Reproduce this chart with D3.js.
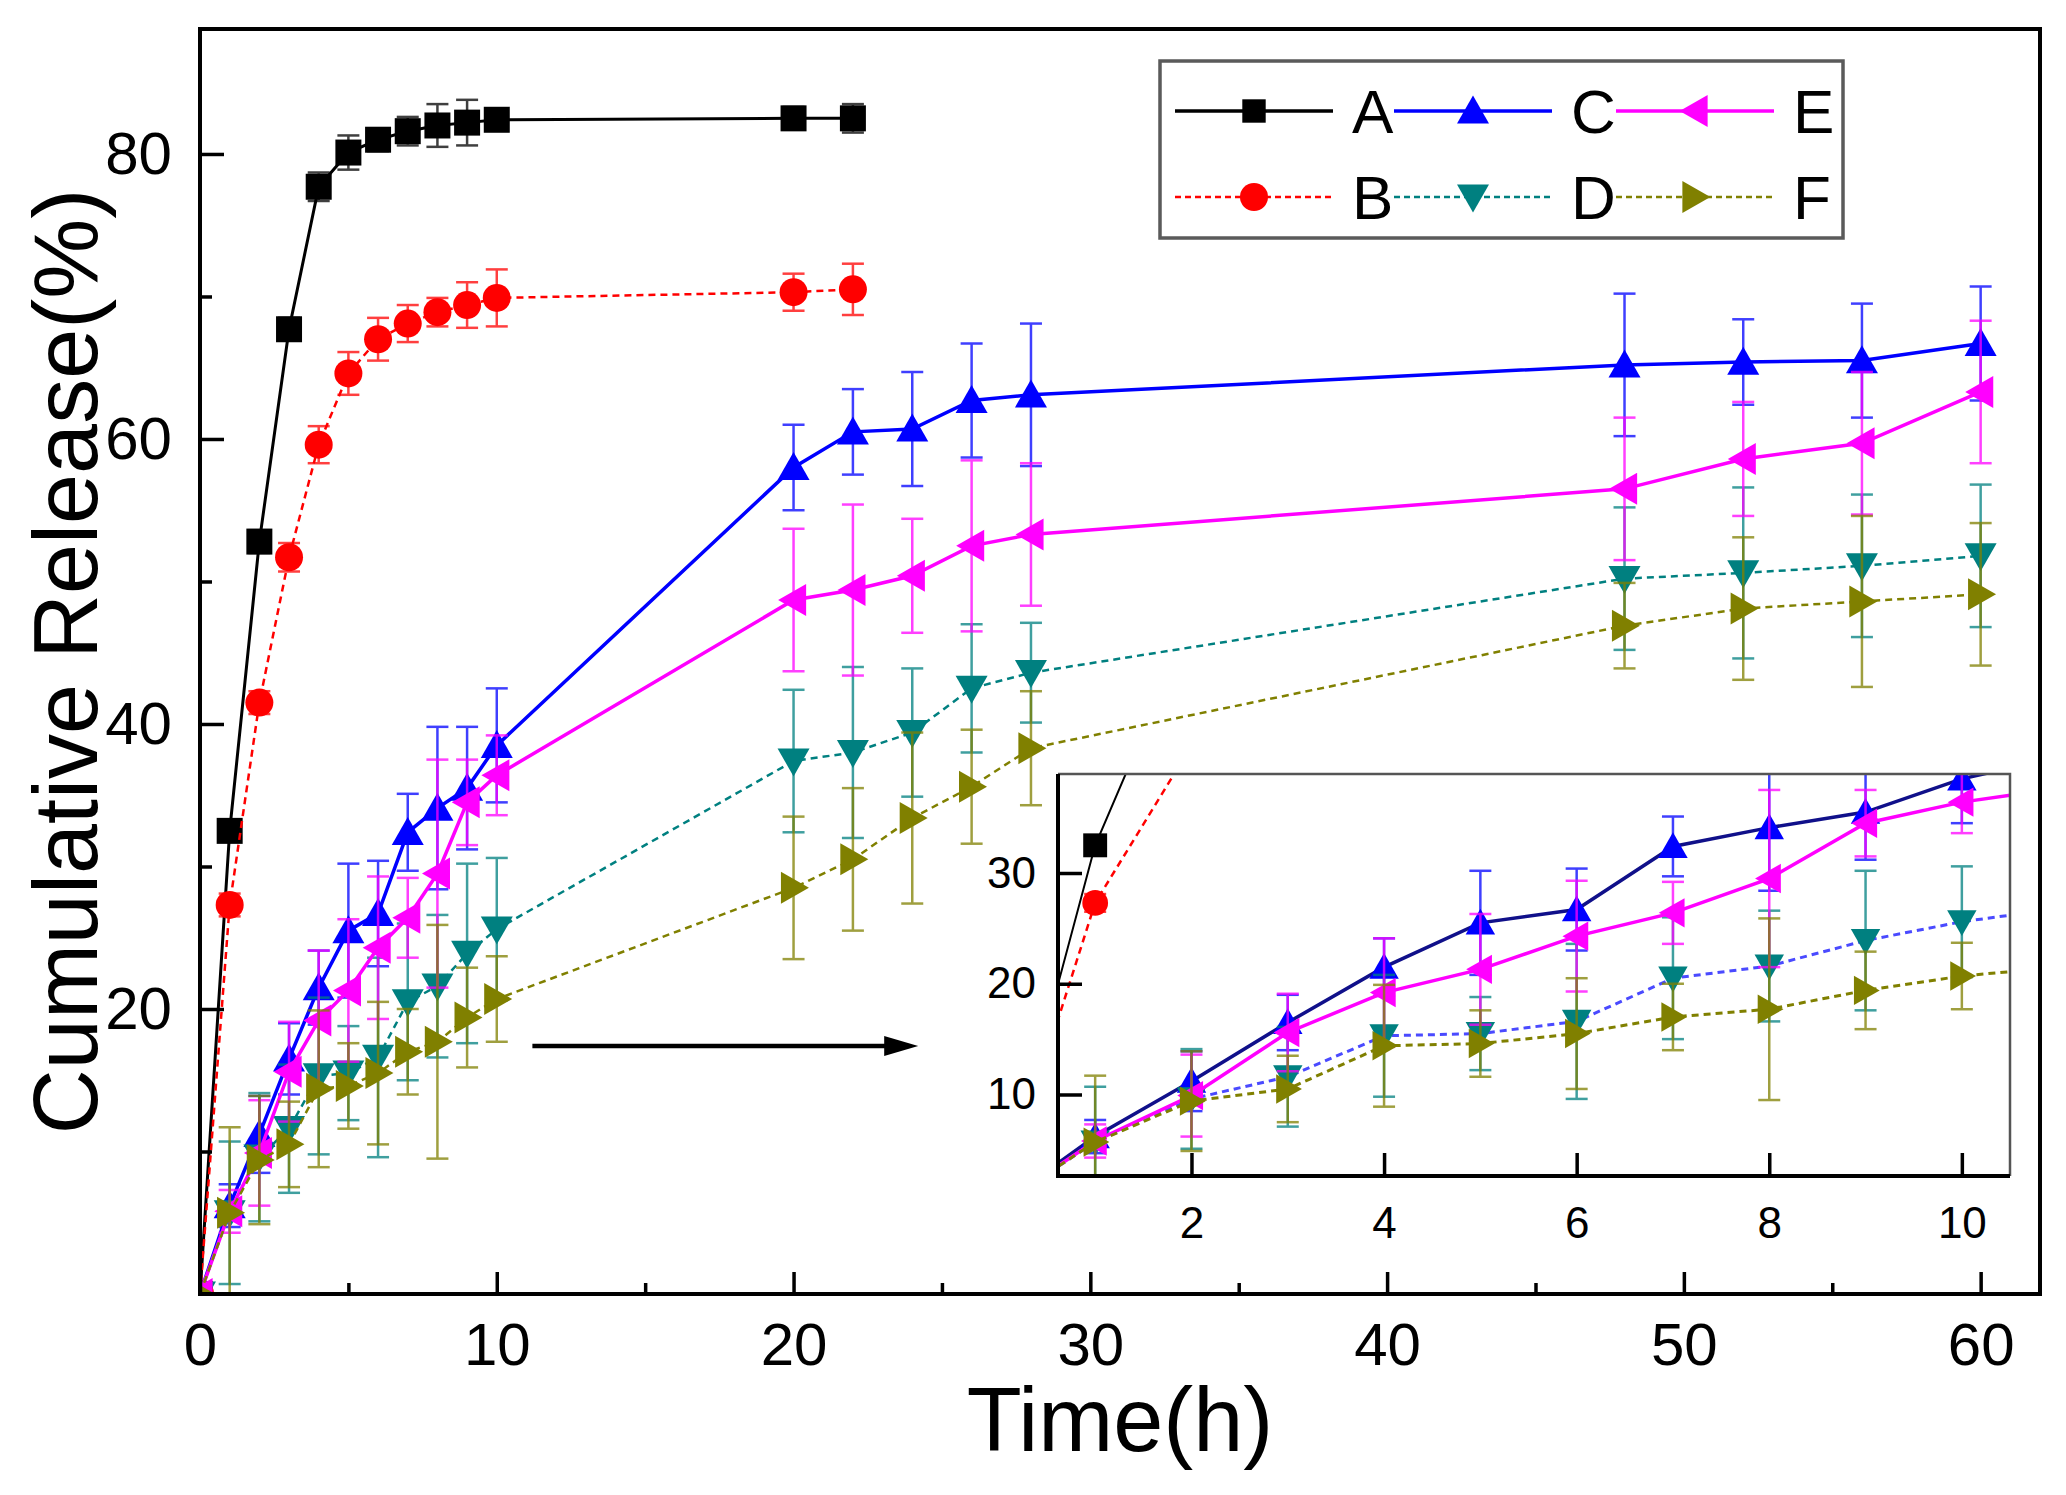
<!DOCTYPE html>
<html><head><meta charset="utf-8">
<script src="https://cdn.jsdelivr.net/npm/d3@7"></script>
<style>html,body{margin:0;padding:0;background:#fff;} svg{display:block;font-family:"Liberation Sans",Arial,sans-serif;}</style>
</head><body><svg id="chart" width="2066" height="1495"></svg>
<script>
// ---------------- DATA ----------------
const seriesNames = ["A","B","C","D","E","F"];
const timesAB = [0,1,2,3,4,5,6,7,8,9,10,20,22];
const timesCF = [0,1,2,3,4,5,6,7,8,9,10,20,22,24,26,28,48,52,56,60];
const valuesA = [0,32.5,52.8,67.7,77.7,80.1,81.0,81.6,82.0,82.2,82.4,82.5,82.5];
const errorsA = [0,0.5,0.8,0.8,1.0,1.2,0.8,1.0,1.5,1.6,0.7,0.8,1.0];
const valuesB = [0,27.3,41.5,51.7,59.6,64.6,67.0,68.1,68.9,69.4,69.9,70.3,70.5];
const errorsB = [0,0.8,0.8,1.0,1.3,1.5,1.5,1.3,1.0,1.6,2.0,1.3,1.8];
const valuesC = [0,6.2,11.2,16.5,21.5,25.5,26.7,32.4,34.1,35.5,38.5,58.0,60.5,60.7,62.7,63.1,65.2,65.4,65.5,66.7];
const errorsC = [0,1.5,2.7,2.5,2.6,4.7,3.7,2.7,5.7,4.3,4.0,3.0,3.0,4.0,4.0,5.0,5.0,3.0,4.0,4.0];
const valuesD = [0,5.7,9.6,11.6,15.3,15.5,16.6,20.5,21.6,23.9,25.6,37.4,38.0,39.4,42.5,43.6,50.2,50.6,51.1,51.8];
const errorsD = [0,5.0,4.5,4.5,5.5,3.3,7.0,5.5,5.0,6.3,5.0,5.0,6.0,4.5,4.5,3.5,5.0,6.0,5.0,5.0];
const valuesE = [0,5.8,9.9,15.6,19.2,21.3,24.3,26.4,29.5,34.5,36.4,48.7,49.4,50.4,52.5,53.3,56.5,58.6,59.7,63.3];
const errorsE = [0,1.5,3.7,3.5,4.9,5.0,5.0,2.8,8.0,3.0,2.8,5.0,6.0,4.0,6.0,5.0,5.0,4.0,5.0,5.0];
const valuesF = [0,5.7,9.4,10.5,14.4,14.6,15.5,17.0,17.7,19.4,20.7,28.5,30.5,33.4,35.6,38.3,46.9,48.1,48.6,49.1];
const errorsF = [0,6.0,4.5,3.0,5.5,3.0,5.0,3.0,8.2,3.5,3.0,5.0,5.0,6.0,4.0,4.0,3.0,5.0,6.0,5.0];

const xTicksMain = [0,10,20,30,40,50,60];
const xMinorMain = [5,15,25,35,45,55];
const yTicksMain = [20,40,60,80];
const yMinorMain = [10,30,50,70];
const xTicksInset = [2,4,6,8,10];
const yTicksInset = [10,20,30];
const xTitle = "Time(h)";
const yTitle = "Cumulative Release(%)";
const arrowFrom = [11.2,17.4];   // data units (time, %)
const arrowTo = [24.2,17.4];

// ---------------- STYLES ----------------
const styles = {
  A:{color:"#000000",shape:"square",dash:null,width:3,insetColor:"#000000",insetWidth:2},
  B:{color:"#ff0000",shape:"circle",dash:"7,5",width:2.5,insetColor:"#ff0000",insetWidth:2.5},
  C:{color:"#0000ff",shape:"up",dash:null,width:3.5,insetColor:"#10108a",insetWidth:3.5},
  D:{color:"#008080",shape:"down",dash:"7,5",width:2.5,insetColor:"#4a4aff",insetWidth:3},
  E:{color:"#ff00ff",shape:"left",dash:null,width:3.5,insetColor:"#ff00ff",insetWidth:3.5},
  F:{color:"#808000",shape:"right",dash:"7,5",width:2.5,insetColor:"#808000",insetWidth:3}
};
const seriesData = {
  A:{t:timesAB,v:valuesA,e:errorsA}, B:{t:timesAB,v:valuesB,e:errorsB},
  C:{t:timesCF,v:valuesC,e:errorsC}, D:{t:timesCF,v:valuesD,e:errorsD},
  E:{t:timesCF,v:valuesE,e:errorsE}, F:{t:timesCF,v:valuesF,e:errorsF}
};
function pts(name){const s=seriesData[name];return s.t.map((t,i)=>({t,v:s.v[i],e:s.e[i]}));}

function markerPath(shape, k){
  k = k||1;
  const s=26*k, w=32*k, h=28*k;
  switch(shape){
    case "square": return `M${-s/2},${-s/2}h${s}v${s}h${-s}Z`;
    case "circle": {const r=14*k; return `M${-r},0a${r},${r} 0 1,0 ${2*r},0a${r},${r} 0 1,0 ${-2*r},0Z`;}
    case "up": return `M0,${-h*0.55}L${w/2},${h*0.45}L${-w/2},${h*0.45}Z`;
    case "down": return `M0,${h*0.55}L${w/2},${-h*0.45}L${-w/2},${-h*0.45}Z`;
    case "left": return `M${-h*0.55},0L${h*0.45},${-w/2}L${h*0.45},${w/2}Z`;
    case "right": return `M${h*0.55},0L${-h*0.45},${-w/2}L${-h*0.45},${w/2}Z`;
  }
}

const svg = d3.select("#chart");
svg.append("rect").attr("width",2066).attr("height",1495).attr("fill","#fff");

// ---------------- MAIN PLOT ----------------
const M = {left:200,right:2040,top:29,bottom:1294};
const x = d3.scaleLinear([0,62],[M.left,M.right]);
const y = d3.scaleLinear([0,88.77],[M.bottom,M.top]);

const defs = svg.append("defs");
defs.append("clipPath").attr("id","clipMain").append("rect")
  .attr("x",M.left).attr("y",M.top).attr("width",M.right-M.left).attr("height",M.bottom-M.top);

function drawSeries(g, xs, ys, name, inset){
  const st = styles[name];
  const data = pts(name);
  const sg = g.append("g");
  const col = st.color;
  const eb = sg.append("g").attr("stroke",col).attr("stroke-width",2.5).attr("opacity",0.75);
  data.filter(d=>d.e>0).forEach(d=>{
    const cx = xs(d.t), y1 = ys(d.v+d.e), y2 = ys(d.v-d.e);
    eb.append("line").attr("x1",cx).attr("x2",cx).attr("y1",y1).attr("y2",y2);
    eb.append("line").attr("x1",cx-11).attr("x2",cx+11).attr("y1",y1).attr("y2",y1);
    eb.append("line").attr("x1",cx-11).attr("x2",cx+11).attr("y1",y2).attr("y2",y2);
  });
  const line = d3.line().x(d=>xs(d.t)).y(d=>ys(d.v));
  sg.append("path").datum(data).attr("d",line).attr("fill","none")
    .attr("stroke", inset?st.insetColor:col)
    .attr("stroke-width", inset?st.insetWidth:st.width)
    .attr("stroke-dasharray", st.dash);
  sg.selectAll("path.mk").data(data).join("path").attr("class","mk")
    .attr("transform",d=>`translate(${xs(d.t)},${ys(d.v)})`)
    .attr("d",markerPath(st.shape, inset?0.92:1)).attr("fill",col);
}

const plotG = svg.append("g").attr("clip-path","url(#clipMain)");
seriesNames.forEach(n=>drawSeries(plotG,x,y,n,false));

// axes
function styleAxis(g, fs){
  g.select(".domain").remove();
  g.selectAll(".tick line").attr("stroke","#000").attr("stroke-width",3.5);
  g.selectAll(".tick text").attr("fill","#000").attr("font-size",fs)
    .attr("font-family",'"Liberation Sans",Arial,sans-serif');
}
const xAxisG = svg.append("g").attr("transform",`translate(0,${M.bottom})`)
  .call(d3.axisBottom(x).tickValues(xTicksMain).tickSizeInner(-22).tickSizeOuter(0).tickPadding(28).tickFormat(d3.format("d")));
styleAxis(xAxisG,60);
const xMinorG = svg.append("g").attr("transform",`translate(0,${M.bottom})`)
  .call(d3.axisBottom(x).tickValues(xMinorMain).tickSizeInner(-11).tickSizeOuter(0).tickFormat(""));
styleAxis(xMinorG,60);
const yAxisG = svg.append("g").attr("transform",`translate(${M.left},0)`)
  .call(d3.axisLeft(y).tickValues(yTicksMain).tickSizeInner(-24).tickSizeOuter(0).tickPadding(28).tickFormat(d3.format("d")));
styleAxis(yAxisG,60);
const yMinorG = svg.append("g").attr("transform",`translate(${M.left},0)`)
  .call(d3.axisLeft(y).tickValues(yMinorMain).tickSizeInner(-12).tickSizeOuter(0).tickFormat(""));
styleAxis(yMinorG,60);

svg.append("rect").attr("x",M.left).attr("y",M.top).attr("width",M.right-M.left).attr("height",M.bottom-M.top)
  .attr("fill","none").attr("stroke","#000").attr("stroke-width",4);

// titles
svg.append("text").attr("x",(M.left+M.right)/2).attr("y",1451).attr("text-anchor","middle")
  .attr("font-size",90).attr("fill","#000").text(xTitle);
svg.append("text").attr("transform",`translate(97,${(M.top+M.bottom)/2}) rotate(-90)`).attr("text-anchor","middle")
  .attr("font-size",90).attr("fill","#000").text(yTitle);

// arrow annotation
{
  const ax1 = x(arrowFrom[0]), ax2 = x(arrowTo[0]), ay = y(arrowFrom[1]);
  svg.append("line").attr("x1",ax1).attr("x2",ax2-30).attr("y1",ay).attr("y2",ay)
    .attr("stroke","#000").attr("stroke-width",4.5);
  svg.append("path").attr("d",`M${ax2},${ay}L${ax2-34},${ay-10}L${ax2-34},${ay+10}Z`).attr("fill","#000");
}

// ---------------- LEGEND ----------------
const L = {x:1160,y:61,w:683,h:177,rows:[111,197],cols:[1175,1394,1616],lineLen:158,labelGap:19};
const lg = svg.append("g");
lg.append("rect").attr("x",L.x).attr("y",L.y).attr("width",L.w).attr("height",L.h)
  .attr("fill","#fff").attr("stroke","#5a5a5a").attr("stroke-width",3.5);
const legendOrder = [["A","B"],["C","D"],["E","F"]];
legendOrder.forEach((pair,ci)=>pair.forEach((name,ri)=>{
  const st = styles[name];
  const x0 = L.cols[ci], yy = L.rows[ri];
  lg.append("line").attr("x1",x0).attr("x2",x0+L.lineLen).attr("y1",yy).attr("y2",yy)
    .attr("stroke",st.color).attr("stroke-width",st.dash?2.5:3.5).attr("stroke-dasharray",st.dash?"6,4":null);
  lg.append("path").attr("transform",`translate(${x0+L.lineLen/2},${yy})`)
    .attr("d",markerPath(st.shape, st.shape==="square"?0.9:1)).attr("fill",st.color);
  lg.append("text").attr("x",x0+L.lineLen+L.labelGap).attr("y",yy+22).attr("font-size",62)
    .attr("fill","#000").text(name);
}));

// ---------------- INSET ----------------
const I = {left:1058,right:2010,top:774,bottom:1176};
const xi = d3.scaleLinear([0.614,10.5],[I.left,I.right]);
const yi = d3.scaleLinear([2.64,38.94],[I.bottom,I.top]);
defs.append("clipPath").attr("id","clipInset").append("rect")
  .attr("x",I.left).attr("y",I.top).attr("width",I.right-I.left).attr("height",I.bottom-I.top);
svg.append("rect").attr("x",I.left).attr("y",I.top).attr("width",I.right-I.left).attr("height",I.bottom-I.top)
  .attr("fill","#fff");
const insetG = svg.append("g").attr("clip-path","url(#clipInset)");
seriesNames.forEach(n=>drawSeries(insetG,xi,yi,n,true));

// inset frame: top/right grey thin, left/bottom black thick
svg.append("path").attr("d",`M${I.left},${I.top}H${I.right}V${I.bottom}`).attr("fill","none")
  .attr("stroke","#555").attr("stroke-width",2.5);
const xiAxis = svg.append("g").attr("transform",`translate(0,${I.bottom})`)
  .call(d3.axisBottom(xi).tickValues(xTicksInset).tickSizeInner(-23).tickSizeOuter(0).tickPadding(31).tickFormat(d3.format("d")));
styleAxis(xiAxis,44);
const yiAxis = svg.append("g").attr("transform",`translate(${I.left},0)`)
  .call(d3.axisLeft(yi).tickValues(yTicksInset).tickSizeInner(-24).tickSizeOuter(0).tickPadding(22).tickFormat(d3.format("d")));
styleAxis(yiAxis,44);
svg.append("path").attr("d",`M${I.left},${I.top}V${I.bottom}H${I.right}`).attr("fill","none")
  .attr("stroke","#000").attr("stroke-width",4);
</script></body></html>
